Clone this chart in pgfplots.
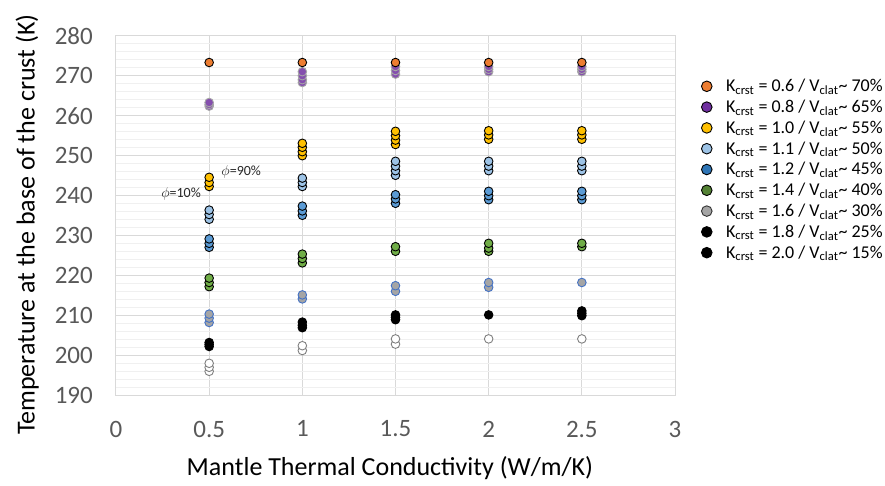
\documentclass[border=0pt]{standalone}
\usepackage{pgfplots}
\pgfplotsset{compat=1.18}
\usepackage{fontspec}
\setmainfont{Carlito}
\definecolor{corange}{HTML}{ED7D31}
\definecolor{cpurple}{HTML}{7030A0}
\definecolor{cyellow}{HTML}{FFC000}
\definecolor{clblue}{HTML}{9DC3E6}
\definecolor{cblue}{HTML}{5B9BD5}
\definecolor{cblueleg}{HTML}{2E75B6}
\definecolor{cgreen}{HTML}{70AD47}
\definecolor{cgreenleg}{HTML}{548235}
\definecolor{cgray}{HTML}{A5A5A5}
\definecolor{cedgeblue}{HTML}{4472C4}
\definecolor{copen}{HTML}{7F7F7F}
\definecolor{gridmaj}{HTML}{D9D9D9}
\definecolor{gridmin}{HTML}{F0F0F0}
\definecolor{ticktext}{HTML}{595959}
\begin{document}
\begin{tikzpicture}[x=1pt,y=1pt]
\path (0,0) rectangle (885,485);
\begin{axis}[
  at={(116pt,89.3pt)}, anchor=south west,
  width=559pt, height=360pt, scale only axis,
  xmin=0, xmax=3, ymin=190, ymax=280,
  xtick={0,0.5,1,1.5,2,2.5,3},
  xticklabels={0,0.5,1,1.5,2,2.5,3},
  ytick={190,200,...,280},
  minor y tick num=4,
  grid=both,
  major grid style={color=gridmaj, line width=1pt},
  minor grid style={color=gridmin, line width=1pt},
  axis line style={draw=gridmaj, line width=1pt},
  major tick length=0pt, minor tick length=0pt,
  tick label style={font=\fontsize{25}{29}\selectfont, text=ticktext},
  /pgf/number format/assume math mode=true,
  yticklabel style={inner sep=0pt, anchor=east, xshift=-23pt},
  xticklabel style={inner sep=0pt, anchor=north, yshift=-25pt},
  xlabel={Mantle Thermal Conductivity (W/m/K)},
  ylabel={Temperature at the base of the crust (K)},
  label style={font=\fontsize{26}{30}\selectfont, text=black},
  xlabel style={at={(axis description cs:0.49,-0.2)}, anchor=center},
  ylabel style={at={(axis description cs:-0.159,0.475)}, anchor=center},
  legend style={at={(axis description cs:1.047,0.885)}, anchor=north west,
    draw=none, fill=none, font=\fontsize{18}{21}\selectfont,
    inner sep=0pt, row sep=2.8pt,
    /tikz/every odd column/.append style={column sep=12pt}},
  legend cell align=left,
  clip=false,
  every axis plot/.append style={only marks, mark=*, mark size=4.3pt, line width=0.9pt},
]
% data series (forget plot: the legend below is built separately)
\addplot[forget plot, mark options={fill=cpurple!85!white, draw=gray!70}] coordinates {
(0.5,262.4)(0.5,262.8)(0.5,263.3)
(1,268.3)(1,269.0)(1,270.0)(1,271.0)
(1.5,270.4)(1.5,271.3)(1.5,272.3)
(2,271.0)(2,271.6)(2,272.3)
(2.5,271.0)(2.5,271.6)(2.5,272.3)};
\addplot[forget plot, mark options={fill=corange, draw=black}] coordinates {
(0.5,273.3)(1,273.3)(1.5,273.3)(2,273.3)(2.5,273.3)};
\addplot[forget plot, mark options={fill=cyellow, draw=black}] coordinates {
(0.5,242.3)(0.5,243.3)(0.5,244.6)
(1,250.0)(1,251.0)(1,252.1)(1,253.1)
(1.5,252.8)(1.5,253.9)(1.5,255.0)(1.5,256.1)
(2,254.1)(2,255.2)(2,256.25)
(2.5,254.1)(2.5,255.2)(2.5,256.25)};
\addplot[forget plot, mark options={fill=clblue, draw=black}] coordinates {
(0.5,234.1)(0.5,235.3)(0.5,236.4)
(1,242.3)(1,243.3)(1,244.4)
(1.5,245.1)(1.5,246.25)(1.5,247.4)(1.5,248.6)
(2,246.25)(2,247.4)(2,248.6)
(2.5,246.25)(2.5,247.4)(2.5,248.6)};
\addplot[forget plot, mark options={fill=cblue, draw=black}] coordinates {
(0.5,227.1)(0.5,228.1)(0.5,229.2)
(1,235.1)(1,236.2)(1,237.4)
(1.5,238.1)(1.5,239.2)(1.5,240.25)
(2,239.0)(2,240.0)(2,241.1)
(2.5,239.0)(2.5,240.0)(2.5,241.1)};
\addplot[forget plot, mark options={fill=cgreen, draw=black}] coordinates {
(0.5,217.25)(0.5,218.3)(0.5,219.4)
(1,223.2)(1,224.3)(1,225.4)
(1.5,226.1)(1.5,227.25)
(2,226.1)(2,226.9)(2,228.1)
(2.5,227.25)(2.5,228.1)};
\addplot[forget plot, mark options={fill=cgray, draw=cedgeblue}] coordinates {
(0.5,208.3)(0.5,209.4)(0.5,210.4)
(1,214.2)(1,215.2)
(1.5,216.1)(1.5,217.5)
(2,217.1)(2,218.3)
(2.5,218.3)};
\addplot[forget plot, mark options={fill=black, draw=black}] coordinates {
(0.5,202.3)(0.5,202.8)(0.5,203.3)
(1,207.0)(1,207.6)(1,208.4)
(1.5,209.0)(1.5,209.6)(1.5,210.2)
(2,210.2)
(2.5,210.0)(2.5,210.6)(2.5,211.2)};
\addplot[forget plot, mark options={fill=white, draw=copen}] coordinates {
(0.5,196.1)(0.5,197.1)(0.5,198.1)
(1,201.3)(1,202.5)
(1.5,202.9)(1.5,204.2)
(2,204.2)
(2.5,204.2)};
% annotations
\node[font=\fontsize{14}{16}\selectfont, text=black!85] at (axis cs:0.672,245.9) {$\phi$=90\%};
\node[font=\fontsize{14}{16}\selectfont, text=black!85] at (axis cs:0.349,240.4) {$\phi$=10\%};
% legend
\addlegendimage{only marks, mark=*, mark size=5.3pt, line width=0.9pt, mark options={fill=corange, draw=black}}
\addlegendentry{K\textsubscript{crst} = 0.6 / V\textsubscript{clat}\textasciitilde{} 70\%}
\addlegendimage{only marks, mark=*, mark size=5.3pt, line width=0.9pt, mark options={fill=cpurple, draw=black}}
\addlegendentry{K\textsubscript{crst} = 0.8 / V\textsubscript{clat}\textasciitilde{} 65\%}
\addlegendimage{only marks, mark=*, mark size=5.3pt, line width=0.9pt, mark options={fill=cyellow, draw=black}}
\addlegendentry{K\textsubscript{crst} = 1.0 / V\textsubscript{clat}\textasciitilde{} 55\%}
\addlegendimage{only marks, mark=*, mark size=5.3pt, line width=0.9pt, mark options={fill=clblue, draw=black}}
\addlegendentry{K\textsubscript{crst} = 1.1 / V\textsubscript{clat}\textasciitilde{} 50\%}
\addlegendimage{only marks, mark=*, mark size=5.3pt, line width=0.9pt, mark options={fill=cblueleg, draw=black}}
\addlegendentry{K\textsubscript{crst} = 1.2 / V\textsubscript{clat}\textasciitilde{} 45\%}
\addlegendimage{only marks, mark=*, mark size=5.3pt, line width=0.9pt, mark options={fill=cgreenleg, draw=black}}
\addlegendentry{K\textsubscript{crst} = 1.4 / V\textsubscript{clat}\textasciitilde{} 40\%}
\addlegendimage{only marks, mark=*, mark size=5.3pt, line width=0.9pt, mark options={fill=cgray, draw=black!80}}
\addlegendentry{K\textsubscript{crst} = 1.6 / V\textsubscript{clat}\textasciitilde{} 30\%}
\addlegendimage{only marks, mark=*, mark size=5.3pt, line width=0.9pt, mark options={fill=black, draw=black}}
\addlegendentry{K\textsubscript{crst} = 1.8 / V\textsubscript{clat}\textasciitilde{} 25\%}
\addlegendimage{only marks, mark=*, mark size=5.3pt, line width=0.9pt, mark options={fill=black, draw=black}}
\addlegendentry{K\textsubscript{crst} = 2.0 / V\textsubscript{clat}\textasciitilde{} 15\%}
\end{axis}
\end{tikzpicture}
\end{document}
